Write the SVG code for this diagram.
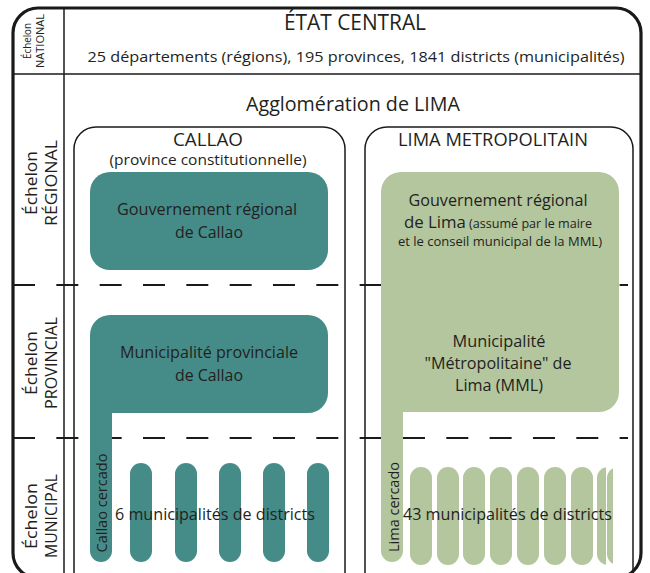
<svg xmlns="http://www.w3.org/2000/svg" width="650" height="573" viewBox="0 0 650 573">
<style>
text{font-family:"Open Sans","Noto Sans","Liberation Sans",sans-serif;fill:#231f20}
.ln{fill:none;stroke:#1a1a1a;stroke-width:1.5}
.dash{fill:none;stroke:#1a1a1a;stroke-width:2;stroke-dasharray:22 21.33}
.teal{fill:#458c89}
.green{fill:#b3c69e}
.mid{text-anchor:middle}
</style>
<defs>
<clipPath id="c1"><rect x="597" y="460" width="9" height="110"/></clipPath>
<clipPath id="c2"><rect x="607" y="460" width="6" height="110"/></clipPath>
</defs>
<rect width="650" height="573" fill="#fff"/>
<g id="frame">
<rect x="13" y="8" width="628" height="570" rx="25" fill="none" stroke="#1a1a1a" stroke-width="3.2"/>
<line class="ln" x1="64" y1="8" x2="64" y2="580"/>
<line class="ln" x1="13" y1="74" x2="641" y2="74"/>
</g>
<g id="connectors">
<line class="dash" x1="13" y1="285" x2="628" y2="285"/>
<line class="dash" x1="13" y1="438" x2="628" y2="438"/>
</g>
<g id="labels">
<text class="mid" transform="translate(31,41) rotate(-90)" font-size="10.5" textLength="36" lengthAdjust="spacingAndGlyphs">Échelon</text>
<text class="mid" transform="translate(44,41) rotate(-90)" font-size="10.5" textLength="54" lengthAdjust="spacingAndGlyphs">NATIONAL</text>
<text class="mid" transform="translate(37,183) rotate(-90)" font-size="16" textLength="64" lengthAdjust="spacingAndGlyphs">Échelon</text>
<text class="mid" transform="translate(57,183) rotate(-90)" font-size="16" textLength="86" lengthAdjust="spacingAndGlyphs">RÉGIONAL</text>
<text class="mid" transform="translate(37,363) rotate(-90)" font-size="16" textLength="64" lengthAdjust="spacingAndGlyphs">Échelon</text>
<text class="mid" transform="translate(57,363) rotate(-90)" font-size="16" textLength="92" lengthAdjust="spacingAndGlyphs">PROVINCIAL</text>
<text class="mid" transform="translate(37,516) rotate(-90)" font-size="16" textLength="66" lengthAdjust="spacingAndGlyphs">Échelon</text>
<text class="mid" transform="translate(57,516) rotate(-90)" font-size="16" textLength="84" lengthAdjust="spacingAndGlyphs">MUNICIPAL</text>
</g>
<g id="etat-central">
<text class="mid" x="355" y="30" font-size="21" textLength="142" lengthAdjust="spacingAndGlyphs">ÉTAT CENTRAL</text>
<text class="mid" x="356" y="62" font-size="15" textLength="537" lengthAdjust="spacingAndGlyphs">25 départements (régions), 195 provinces, 1841 districts (municipalités)</text>
</g>
<g id="agglomeration">
<text class="mid" x="353" y="111" font-size="20" textLength="214" lengthAdjust="spacingAndGlyphs">Agglomération de LIMA</text>
</g>
<g id="callao">
<path class="ln" d="M74,600 V149 A22,22 0 0 1 96,127 H323 A22,22 0 0 1 345,149 V600"/>
<text class="mid" x="208" y="146" font-size="18.5" textLength="70" lengthAdjust="spacingAndGlyphs">CALLAO</text>
<text class="mid" x="208" y="165" font-size="14" textLength="197" lengthAdjust="spacingAndGlyphs">(province constitutionnelle)</text>
</g>
<g id="lima-metropolitain">
<path class="ln" d="M365,600 V149 A22,22 0 0 1 387,127 H611 A22,22 0 0 1 633,149 V600"/>
<text class="mid" x="493" y="146" font-size="18.5" textLength="190" lengthAdjust="spacingAndGlyphs">LIMA METROPOLITAIN</text>
</g>
<g id="gouv-callao">
<rect class="teal" x="90" y="172" width="238" height="98" rx="20"/>
<text class="mid" x="207" y="215" font-size="16" textLength="180" lengthAdjust="spacingAndGlyphs">Gouvernement régional</text>
<text class="mid" x="209" y="238" font-size="16" textLength="68" lengthAdjust="spacingAndGlyphs">de Callao</text>
</g>
<g id="mun-callao">
<path class="teal" d="M90,413 V335 A20,20 0 0 1 110,315 H308 A20,20 0 0 1 328,335 V393 A20,20 0 0 1 308,413 H112 V551 A11,11 0 0 1 90,551 Z"/>
<text class="mid" x="209" y="358" font-size="16" textLength="178" lengthAdjust="spacingAndGlyphs">Municipalité provinciale</text>
<text class="mid" x="209" y="381" font-size="16" textLength="68" lengthAdjust="spacingAndGlyphs">de Callao</text>
<text class="mid" transform="translate(107,503) rotate(-90)" font-size="15" textLength="99" lengthAdjust="spacingAndGlyphs">Callao cercado</text>
</g>
<g id="districts-callao">
<rect class="teal" x="130" y="463" width="22" height="99" rx="11"/>
<rect class="teal" x="175" y="463" width="22" height="99" rx="11"/>
<rect class="teal" x="219" y="463" width="22" height="99" rx="11"/>
<rect class="teal" x="263" y="463" width="22" height="99" rx="11"/>
<rect class="teal" x="307" y="463" width="22" height="99" rx="11"/>
<text class="mid" x="215" y="520" font-size="16" textLength="200" lengthAdjust="spacingAndGlyphs">6 municipalités de districts</text>
</g>
<g id="gouv-lima">
<path class="green" d="M381,412 V192 A20,20 0 0 1 401,172 H599 A20,20 0 0 1 619,192 V392 A20,20 0 0 1 599,412 H403 V551 A11,11 0 0 1 381,551 Z"/>
<text class="mid" x="498" y="206" font-size="16" textLength="179" lengthAdjust="spacingAndGlyphs">Gouvernement régional</text>
<text x="404" y="228" textLength="188" lengthAdjust="spacingAndGlyphs"><tspan font-size="16">de Lima</tspan><tspan font-size="12"> (assumé par le maire</tspan></text>
<text class="mid" x="500" y="246" font-size="12" textLength="204" lengthAdjust="spacingAndGlyphs">et le conseil municipal de la MML)</text>
<text class="mid" x="499" y="347" font-size="16" textLength="93" lengthAdjust="spacingAndGlyphs">Municipalité</text>
<text class="mid" x="498" y="369" font-size="16" textLength="147" lengthAdjust="spacingAndGlyphs">"Métropolitaine" de</text>
<text class="mid" x="499" y="391" font-size="16" textLength="88" lengthAdjust="spacingAndGlyphs">Lima (MML)</text>
<text class="mid" transform="translate(399,507) rotate(-90)" font-size="15" textLength="90" lengthAdjust="spacingAndGlyphs">Lima cercado</text>
</g>
<g id="districts-lima">
<rect class="green" x="410" y="467" width="22" height="98" rx="11"/>
<rect class="green" x="437" y="467" width="22" height="98" rx="11"/>
<rect class="green" x="463" y="467" width="22" height="98" rx="11"/>
<rect class="green" x="490" y="467" width="22" height="98" rx="11"/>
<rect class="green" x="517" y="467" width="22" height="98" rx="11"/>
<rect class="green" x="544" y="467" width="22" height="98" rx="11"/>
<rect class="green" x="571" y="467" width="22" height="98" rx="11"/>
<rect class="green" x="597" y="467" width="22" height="98" rx="11" clip-path="url(#c1)"/>
<rect class="green" x="607" y="467" width="22" height="98" rx="11" clip-path="url(#c2)"/>
<text class="mid" x="507.5" y="520" font-size="16" textLength="209" lengthAdjust="spacingAndGlyphs">43 municipalités de districts</text>
</g>
</svg>
